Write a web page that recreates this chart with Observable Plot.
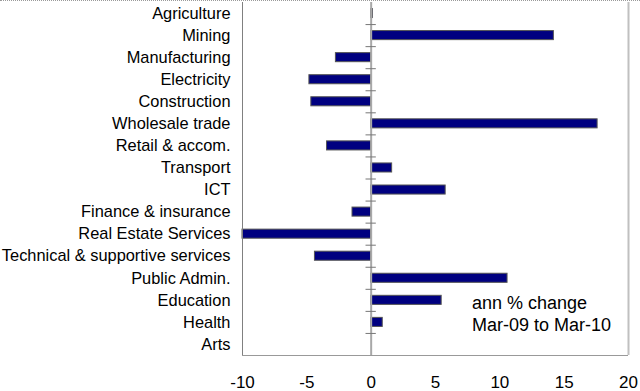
<!DOCTYPE html>
<html><head><meta charset="utf-8">
<script src="https://cdn.jsdelivr.net/npm/d3@7"></script>
<script src="https://cdn.jsdelivr.net/npm/@observablehq/plot@0.6"></script>
<style>
html,body{margin:0;padding:0;background:#fff;}
#wrap{position:relative;width:640px;height:391px;}
#dots{position:absolute;left:0;top:0;width:640px;height:0;border-top:1px dotted #9a9a9a;}
</style></head><body>
<div id="wrap"><div id="chart"></div><div id="dots"></div></div>
<script>
const categories = ["Agriculture","Mining","Manufacturing","Electricity","Construction","Wholesale trade","Retail & accom.","Transport","ICT","Finance & insurance","Real Estate Services","Technical & supportive services","Public Admin.","Education","Health","Arts"];
const values = [0.13, 14.2, -2.74, -4.8, -4.65, 17.6, -3.43, 1.63, 5.79, -1.45, -10.0, -4.37, 10.6, 5.48, 0.9, 0];
const xTicks = [-10, -5, 0, 5, 10, 15, 20];
const noteLines = ["ann % change", "Mar-09 to Mar-10"];
const noteRows = ["Education", "Health"];

const data = categories.map((c, i) => ({category: c, value: values[i]}));
const half = (391 - 36 - 2) / categories.length / 2;

const chart = Plot.plot({
  width: 640,
  height: 391,
  marginTop: 2,
  marginBottom: 36,
  marginLeft: 242,
  marginRight: 12,
  style: {fontFamily: "'Liberation Sans', Arial, sans-serif", fontSize: "16px", color: "#000", background: "#fff"},
  x: {domain: [-10, 20], ticks: xTicks},
  y: {domain: categories, padding: 0, round: false},
  marks: [
    Plot.barX(data, {x: "value", y: "category", fill: "#000080", stroke: "#555", strokeWidth: 1, insetTop: 6.5, insetBottom: 6.5}),
    Plot.ruleX([0], {stroke: "#a8a8a8", strokeWidth: 2}),
    Plot.ruleY(categories.slice(1), {x1: -0.4, x2: 0.4, dy: -half, stroke: "#777"}),
    Plot.ruleX([-10], {stroke: "#808080"}),
    Plot.ruleX([20], {stroke: "#c0c0c0", strokeWidth: 2}),
    Plot.ruleY([categories[categories.length - 1]], {dy: half, stroke: "#999"}),
    Plot.text(noteLines, {x: 7.83, y: noteRows, text: d => d, textAnchor: "start", fontSize: 18, dy: 3}),
    Plot.axisX({ticks: xTicks, tickSize: 0, tickPadding: 20, label: null, tickFormat: d => String(d), fontSize: 17}),
    Plot.axisY({tickSize: 0, tickPadding: 12, label: null, fontSize: 16.4})
  ]
});
document.getElementById("chart").appendChild(chart);
</script>
</body></html>
